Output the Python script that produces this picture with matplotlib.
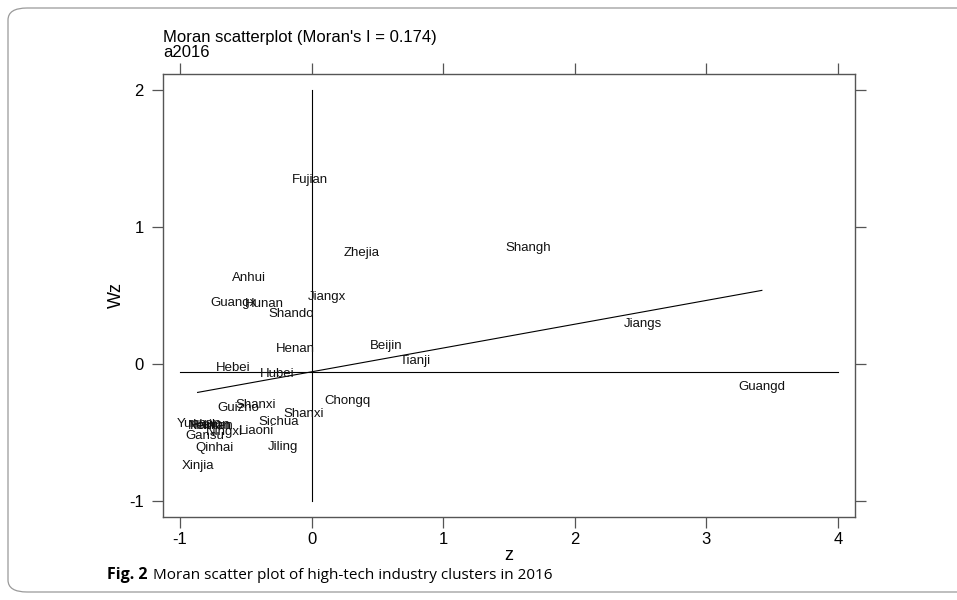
import numpy as np
import matplotlib
matplotlib.use("Agg")
import matplotlib.pyplot as plt
from matplotlib.patches import FancyBboxPatch

# province labels and their (z, Wz) positions
names = ["Fujian", "Shangh", "Zhejia", "Anhui", "Guangx", "Hunan", "Jiangx",
         "Shando", "Jiangs", "Henan", "Beijin", "Tianji", "Hebei", "Hubei",
         "Guangd", "Chongq", "Shanxi", "Guizho", "Shanxi", "Sichua", "Yunnan",
         "Heilon", "Neimen", "Hainan", "Gansu", "Ningxi", "Liaoni", "Qinhai",
         "Jiling", "Xinjia"]
z = [-0.015, 1.650, 0.380, -0.479, -0.593, -0.357, 0.114,
     -0.152, 2.517, -0.122, 0.570, 0.791, -0.593, -0.259,
     3.422, 0.274, -0.426, -0.555, -0.061, -0.251, -0.852,
     -0.760, -0.770, -0.765, -0.814, -0.662, -0.418, -0.738,
     -0.221, -0.867]
wz = [1.346, 0.849, 0.812, 0.629, 0.446, 0.439, 0.490,
      0.366, 0.293, 0.110, 0.132, 0.022, -0.029, -0.073,
      -0.168, -0.271, -0.300, -0.322, -0.366, -0.424, -0.439,
      -0.450, -0.455, -0.452, -0.527, -0.497, -0.490, -0.614,
      -0.607, -0.746]

moran_i = 0.174
wz_mean = -0.058
xticks = [-1, 0, 1, 2, 3, 4]
yticks = [-1, 0, 1, 2]

plt.rcParams['font.family'] = ['Liberation Sans', 'DejaVu Sans']

fig = plt.figure(figsize=(9.57, 6.0), dpi=100)

# rounded outer frame of the figure panel
frame = FancyBboxPatch((8 / 957, 8 / 600), 1.2, 584 / 600,
                       boxstyle="round,pad=0,rounding_size=0.02",
                       transform=fig.transFigure, fill=False,
                       edgecolor="#9a9a9a", linewidth=0.9)
fig.patches.append(frame)

ax = fig.add_axes([163 / 957, 83 / 600, 692 / 957, 443 / 600])
ax.set_xlim(-1.13, 4.13)
ax.set_ylim(-1.12, 2.12)

for n, xv, yv in zip(names, z, wz):
    ax.text(xv, yv, n, ha="center", va="center", fontsize=9.5, color="#111111")

ax.plot([0, 0], [-1, 2], color="black", lw=0.8)
ax.plot([-1, 4], [wz_mean, wz_mean], color="black", lw=0.8)
xs = np.array([min(z), max(z)])
ax.plot(xs, wz_mean + moran_i * xs, color="black", lw=0.8)

ax.set_xticks(xticks)
ax.set_xticklabels([str(t) for t in xticks])
ax.set_yticks(yticks)
ax.set_yticklabels([str(t) for t in yticks])
ax.tick_params(direction="out", length=8, width=0.9, color="#555555",
               labelsize=12, top=True, right=True, labeltop=False, labelright=False)
ax.tick_params(axis="x", pad=3)
ax.tick_params(axis="y", pad=6)
for s in ax.spines.values():
    s.set_color("#555555")
    s.set_linewidth(1.0)

ax.set_xlabel("z", fontsize=13, labelpad=0)
ax.set_ylabel("Wz", fontsize=13, labelpad=3)

fig.text(163 / 957, 1 - 42 / 600, "Moran scatterplot (Moran's I = 0.174)",
         fontsize=12, ha="left", va="baseline")
fig.text(163 / 957, 1 - 57 / 600, "a2016", fontsize=12, ha="left", va="baseline")

fig.text(107 / 957, 1 - 579 / 600, "Fig. 2", fontsize=11.5, fontweight="bold",
         family="Open Sans", ha="left", va="baseline")
fig.text(153 / 957, 1 - 579 / 600, "Moran scatter plot of high-tech industry clusters in 2016",
         fontsize=11, family="Open Sans", ha="left", va="baseline")

fig.savefig("out.png", dpi=100)
